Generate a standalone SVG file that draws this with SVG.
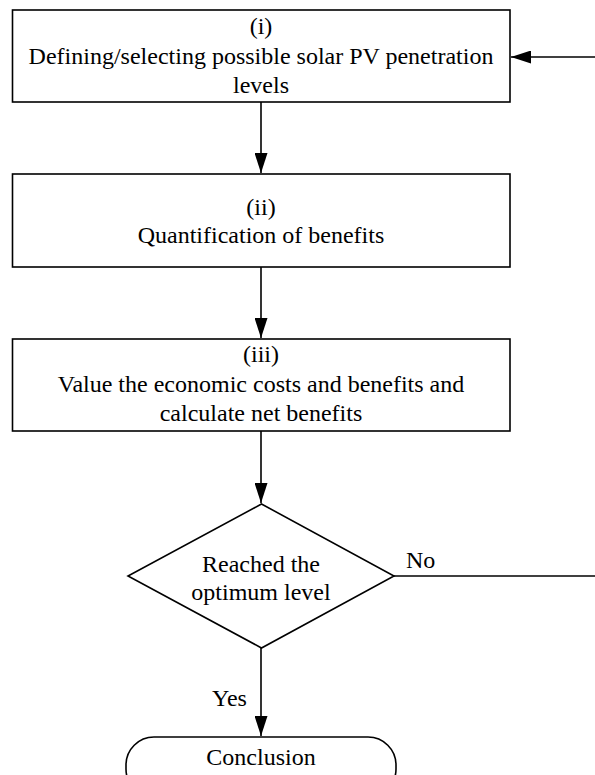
<svg xmlns="http://www.w3.org/2000/svg" width="595" height="775" viewBox="0 0 595 775">
  <style>
    .shape { fill: #ffffff; stroke: #000000; stroke-width: 1.6; }
    .conn { fill: none; stroke: #000000; stroke-width: 1.6; }
    .lbl { font-family: "Liberation Serif", "Times New Roman", serif; font-size: 24px; fill: #000000; text-anchor: middle; }
    .lbl-start { font-family: "Liberation Serif", "Times New Roman", serif; font-size: 24px; fill: #000000; text-anchor: start; }
  </style>
  <defs>
    <marker id="arrow" markerWidth="20" markerHeight="13" refX="20" refY="6.5" orient="auto" markerUnits="userSpaceOnUse">
      <path d="M0,0 L20,6.5 L0,13 Z" fill="#000000"/>
    </marker>
  </defs>

  <g id="connectors">
    <path class="conn" d="M261,102 V173" marker-end="url(#arrow)"/>
    <path class="conn" d="M261,267 V338" marker-end="url(#arrow)"/>
    <path class="conn" d="M261,431 V503" marker-end="url(#arrow)"/>
    <path class="conn" d="M394,576 H595"/>
    <path class="conn" d="M595,57 H511" marker-end="url(#arrow)"/>
    <path class="conn" d="M261,648 V736" marker-end="url(#arrow)"/>
    <text class="lbl-start" x="406" y="568">No</text>
    <text class="lbl-start" x="212" y="706">Yes</text>
  </g>

  <g id="step1">
    <rect class="shape" x="12.5" y="10" width="497.5" height="92"/>
    <text class="lbl" x="261" y="34">(i)</text>
    <text class="lbl" x="261" y="64">Defining/selecting possible solar PV penetration</text>
    <text class="lbl" x="261" y="93">levels</text>
  </g>

  <g id="step2">
    <rect class="shape" x="12.5" y="174" width="497.5" height="93"/>
    <text class="lbl" x="261" y="215">(ii)</text>
    <text class="lbl" x="261" y="243">Quantification of benefits</text>
  </g>

  <g id="step3">
    <rect class="shape" x="12.5" y="339" width="497.5" height="92"/>
    <text class="lbl" x="261" y="362">(iii)</text>
    <text class="lbl" x="261" y="392">Value the economic costs and benefits and</text>
    <text class="lbl" x="261" y="421">calculate net benefits</text>
  </g>

  <g id="decision">
    <polygon class="shape" points="261.5,504 394,576 261.5,648 128,576"/>
    <text class="lbl" x="261" y="572">Reached the</text>
    <text class="lbl" x="261" y="600">optimum level</text>
  </g>

  <g id="conclusion">
    <rect class="shape" x="126" y="737" width="270" height="60" rx="28" ry="28"/>
    <text class="lbl" x="261" y="765">Conclusion</text>
  </g>
</svg>
